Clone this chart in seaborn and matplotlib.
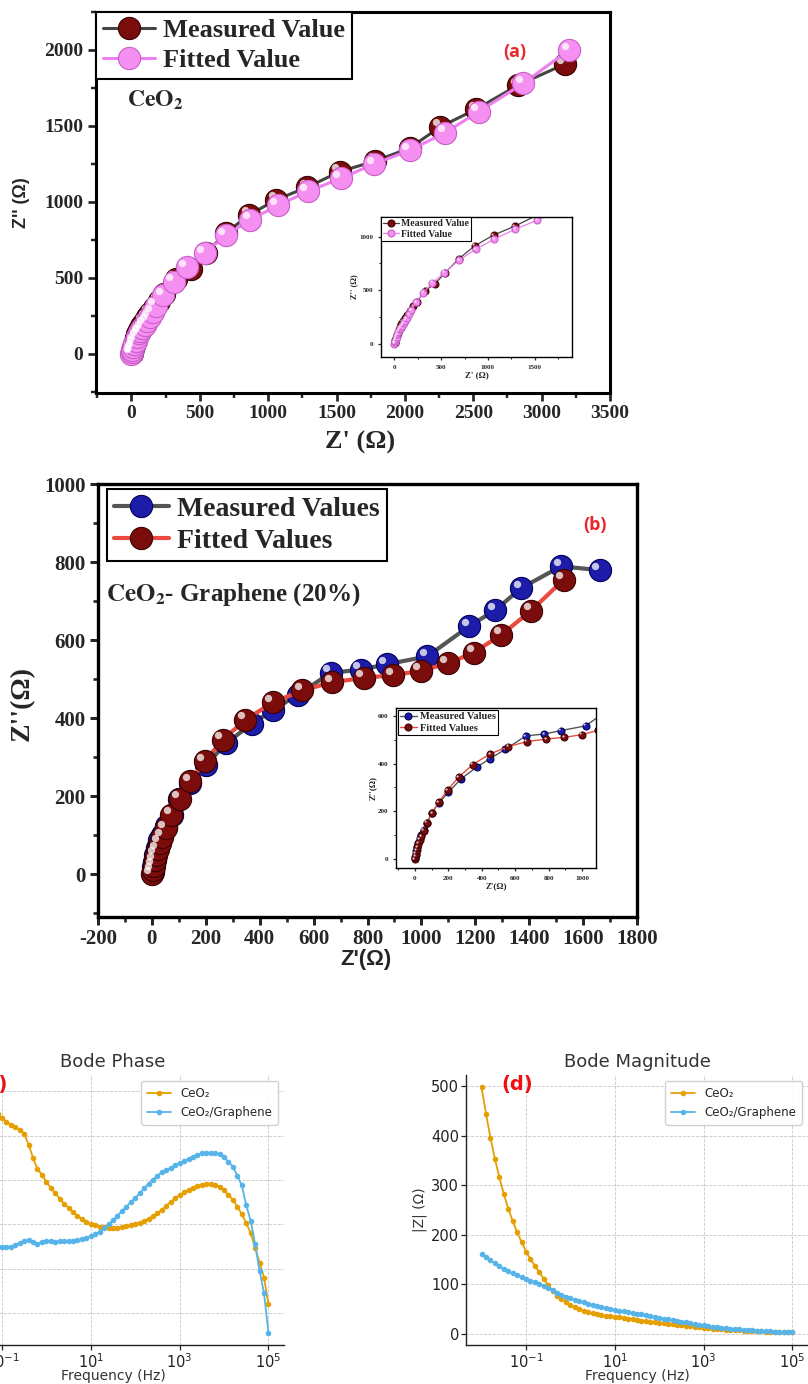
import numpy as np
import matplotlib
matplotlib.use("Agg")
import matplotlib.pyplot as plt
import seaborn as sns
from matplotlib.transforms import ScaledTranslation
from matplotlib.ticker import MultipleLocator, NullLocator

# ---------------- data ----------------
# (a) CeO2 Nyquist
a_meas_x = [2, 6, 11, 17, 24, 33, 44, 57, 72, 90, 112, 135, 162, 200, 240, 325, 435, 545, 690, 860, 1060, 1285, 1525, 1785, 2035, 2260, 2520, 2830, 3170]
a_meas_y = [5, 20, 38, 58, 80, 103, 128, 155, 183, 212, 240, 270, 305, 350, 392, 495, 560, 665, 795, 915, 1015, 1097, 1200, 1270, 1355, 1495, 1610, 1770, 1907]
a_fit_x = [0, 3, 7, 13, 22, 32, 43, 56, 65, 80, 97, 115, 133, 155, 179, 233, 309, 406, 535, 690, 870, 1070, 1290, 1530, 1775, 2035, 2295, 2540, 2865, 3200]
a_fit_y = [0, 12, 28, 46, 66, 88, 112, 135, 150, 170, 192, 215, 240, 275, 316, 387, 475, 570, 664, 780, 883, 977, 1069, 1155, 1250, 1340, 1456, 1594, 1780, 2000]

# (b) CeO2-Graphene Nyquist
b_meas_x = [3, 5, 8, 13, 20, 28, 38, 53, 75, 100, 143, 200, 275, 370, 448, 542, 664, 775, 872, 1022, 1178, 1273, 1370, 1518, 1662]
b_meas_y = [5, 18, 32, 48, 68, 88, 100, 122, 152, 193, 234, 279, 335, 385, 420, 460, 516, 524, 538, 558, 636, 676, 733, 789, 779]
b_fit_x = [0, 3, 6, 10, 15, 21, 29, 39, 52, 71, 103, 143, 196, 263, 347, 449, 558, 670, 786, 895, 998, 1098, 1195, 1297, 1407, 1528]
b_fit_y = [0, 10, 22, 36, 50, 64, 80, 96, 118, 152, 193, 238, 289, 344, 396, 440, 471, 492, 503, 510, 521, 540, 568, 614, 675, 755]

# (c)/(d) Bode data: frequency sweep 0.01 Hz - 100 kHz, 10 points per decade
freq = np.logspace(-2, 5, 71)
phase_ceo2 = [61.0, 60.5, 59.8, 59.0, 58.2, 57.5, 56.7, 56.0, 55.3, 54.8,
              54.0, 53.2, 52.4, 51.9, 51.4, 50.5, 48.0, 45.0, 42.5, 41.2,
              39.6, 38.2, 37.0, 35.8, 34.7, 33.7, 32.7, 31.9, 31.2, 30.6,
              30.1, 29.8, 29.5, 29.4, 29.3, 29.3, 29.3, 29.4, 29.6, 29.8,
              30.0, 30.4, 30.8, 31.3, 31.8, 32.5, 33.3, 34.2, 35.1, 35.9,
              36.6, 37.2, 37.8, 38.3, 38.7, 39.0, 39.2, 39.2, 39.0, 38.5,
              37.7, 36.7, 35.5, 34.0, 32.3, 30.3, 28.0, 24.7, 21.4, 18.0, 12.0]
phase_graph = [23.5, 23.8, 24.0, 24.2, 24.3, 24.5, 24.6, 24.7, 24.8, 24.9,
               24.9, 25.0, 25.0, 25.3, 25.8, 26.3, 26.5, 26.0, 25.6, 26.1,
               26.2, 26.2, 26.1, 26.2, 26.2, 26.3, 26.3, 26.4, 26.6, 26.9,
               27.3, 27.8, 28.4, 29.2, 30.0, 30.9, 32.0, 33.0, 34.0, 35.0,
               36.0, 37.0, 38.1, 39.2, 40.1, 41.0, 41.8, 42.3, 42.8, 43.3,
               43.8, 44.3, 44.8, 45.3, 45.7, 46.0, 46.2, 46.2, 46.1, 45.8,
               45.2, 44.1, 43.0, 41.0, 38.8, 34.3, 30.8, 25.5, 19.5, 14.5, 5.5]
mag_ceo2 = [498, 445, 396, 354, 316, 283, 253, 228, 205, 186,
            166, 151, 137, 124, 111, 98, 87, 77, 70, 64,
            58, 53, 49, 46, 43, 41, 39, 37.5, 36, 35,
            34, 33, 31.5, 30, 29, 28, 26.5, 25.5, 24, 23,
            22, 21, 20, 19, 18, 17, 16, 15, 14, 13,
            12, 11, 10.3, 9.5, 8.8, 8.2, 7.6, 7.0, 6.5, 6.0,
            5.5, 5.1, 4.7, 4.4, 4.1, 3.8, 3.6, 3.4, 3.2, 3.0, 2.9]
mag_graph = [161, 154, 148, 142, 136, 131, 126, 122, 118, 114,
             110, 107, 104, 101, 97, 93, 88, 83, 79, 75,
             72, 69, 66, 63, 60.5, 58, 56, 54, 52, 50,
             48, 46.5, 45, 43.5, 42, 40.5, 39, 37, 35.5, 34,
             32, 30.5, 29, 27.5, 26, 24.5, 23, 21, 19.5, 18,
             16.5, 15, 14, 13, 12, 11, 10, 9.3, 8.6, 7.9,
             7.2, 6.6, 6.0, 5.5, 5.0, 4.6, 4.2, 3.8, 3.5, 3.2, 3.0]

a_x_ticks = [0, 500, 1000, 1500, 2000, 2500, 3000, 3500]
a_y_ticks = [0, 500, 1000, 1500, 2000]
b_x_ticks = [-200, 0, 200, 400, 600, 800, 1000, 1200, 1400, 1600, 1800]
b_y_ticks = [0, 200, 400, 600, 800, 1000]
bode_x_ticks = [1e-1, 1e1, 1e3, 1e5]

# ---------------- style ----------------
sns.set_style("white")
plt.rcParams["axes.unicode_minus"] = False
SERIF = "Liberation Serif"
ORANGE = "#E69F00"
SKY = "#56B4E9"

W, H = 808, 1384
fig = plt.figure(figsize=(W / 100, H / 100), dpi=100)


def px_axes(left, top, right, bottom):
    return fig.add_axes([left / W, 1 - bottom / H, (right - left) / W, (bottom - top) / H])


def sphere_series(ax, x, y, lc, fc, ec, lw, ms, label):
    sns.lineplot(x=x, y=y, ax=ax, sort=False, estimator=None, color=lc, lw=lw,
                 marker="o", markersize=ms, markerfacecolor=fc, markeredgecolor=ec,
                 markeredgewidth=0.8, legend=False)
    h = ax.lines[-1]
    h.set_label(label)
    off = ScaledTranslation(-ms * 0.2 / 72, ms * 0.2 / 72, fig.dpi_scale_trans)
    ax.plot(x, y, "o", ms=ms * 0.33, mfc="white", mec="none", alpha=0.75,
            transform=ax.transData + off)
    return h


def origin_frame(ax, lw=2.2, maj=6, mnr=3.5, lsize=14):
    for s in ax.spines.values():
        s.set_visible(True)
        s.set_linewidth(lw)
        s.set_color("black")
    ax.tick_params(which="major", direction="out", length=maj, width=lw * 0.9,
                   top=False, right=False, bottom=True, left=True, labelsize=lsize, pad=3)
    ax.tick_params(which="minor", direction="out", length=mnr, width=lw * 0.8,
                   top=False, right=False, bottom=True, left=True)
    for lab in ax.get_xticklabels() + ax.get_yticklabels():
        lab.set_fontfamily(SERIF)
        lab.set_fontweight("bold")
    ax.grid(False)


# ---------------- (a) ----------------
axA = px_axes(96, 12, 610, 393)
ha1 = sphere_series(axA, a_meas_x, a_meas_y, "#444444", "#7a0c0c", "#3a0000", 2.2, 16, "Measured Value")
ha2 = sphere_series(axA, a_fit_x, a_fit_y, "#ee7fee", "#f590f2", "#c95ec8", 2.2, 16, "Fitted Value")
axA.set_xlim(-259, 3500)
axA.set_ylim(-257, 2250)
axA.set_xticks(a_x_ticks)
axA.set_yticks(a_y_ticks)
axA.xaxis.set_minor_locator(MultipleLocator(250))
axA.yaxis.set_minor_locator(MultipleLocator(250))
origin_frame(axA, lsize=14)
axA.set_xlabel("Z' (Ω)", fontfamily=SERIF, fontweight="bold", fontsize=19)
axA.xaxis.set_label_coords(0.514, -0.129)
axA.xaxis.label.set_va("center")
axA.set_ylabel("Z'' (Ω)", fontfamily="Liberation Sans", fontweight="bold", fontsize=13)
axA.yaxis.set_label_coords(-0.144, 0.499)
axA.yaxis.label.set_va("center")
legA = axA.legend(handles=[ha1, ha2], loc="upper left", borderaxespad=0, fancybox=False,
                  edgecolor="black", framealpha=1, handlelength=2.0, handletextpad=0.3,
                  borderpad=0.25, labelspacing=0.25,
                  prop={"family": SERIF, "weight": "bold", "size": 19})
legA.get_frame().set_linewidth(1.5)
axA.text(0.06, 0.77, r"$\mathbf{CeO_2}$", transform=axA.transAxes, fontsize=17,
         math_fontfamily="stix", va="center", ha="left")
axA.text(0.815, 0.895, "(a)", transform=axA.transAxes, color="#e8262b", fontsize=13,
         fontweight="bold", fontfamily="Open Sans", ha="center", va="center")

# inset (a)
axAi = px_axes(381, 217, 572, 357)
ha1i = sphere_series(axAi, a_meas_x, a_meas_y, "#444444", "#7a0c0c", "#3a0000", 0.9, 5, "Measured Value")
ha2i = sphere_series(axAi, a_fit_x, a_fit_y, "#ee7fee", "#f590f2", "#c95ec8", 0.9, 5, "Fitted Value")
axAi.set_xlim(-144, 1900)
axAi.set_ylim(-124, 1184)
axAi.set_xticks([0, 500, 1000, 1500])
axAi.set_yticks([0, 500, 1000])
axAi.xaxis.set_minor_locator(MultipleLocator(250))
axAi.yaxis.set_minor_locator(MultipleLocator(250))
origin_frame(axAi, lw=1.0, maj=2.5, mnr=1.5, lsize=5)
axAi.set_xlabel("Z' (Ω)", fontfamily=SERIF, fontweight="bold", fontsize=6.5, labelpad=1)
axAi.set_ylabel("Z'' (Ω)", fontfamily=SERIF, fontweight="bold", fontsize=6, labelpad=1)
legAi = axAi.legend(handles=[ha1i, ha2i], loc="upper left", borderaxespad=0, fancybox=False,
                    edgecolor="black", framealpha=1, handlelength=1.6, handletextpad=0.3,
                    borderpad=0.2, labelspacing=0.2,
                    prop={"family": SERIF, "weight": "bold", "size": 7})
legAi.get_frame().set_linewidth(0.8)

# ---------------- (b) ----------------
axB = px_axes(98, 484, 637, 917)
hb1 = sphere_series(axB, b_meas_x, b_meas_y, "#555555", "#1c1ca8", "#00005a", 3.0, 16, "Measured Values")
hb2 = sphere_series(axB, b_fit_x, b_fit_y, "#ea4a40", "#7a0c0c", "#3a0000", 3.0, 16, "Fitted Values")
axB.set_xlim(-200, 1800)
axB.set_ylim(-110, 1000)
axB.set_xticks(b_x_ticks)
axB.set_yticks(b_y_ticks)
axB.xaxis.set_minor_locator(MultipleLocator(100))
axB.yaxis.set_minor_locator(MultipleLocator(100))
origin_frame(axB, lw=2.4, lsize=15)
axB.set_xlabel("Z'(Ω)", fontfamily="Liberation Sans", fontweight="bold", fontsize=16)
axB.xaxis.set_label_coords(0.497, -0.099)
axB.xaxis.label.set_va("center")
axB.set_ylabel("Z''(Ω)", fontfamily=SERIF, fontweight="bold", fontsize=20)
axB.yaxis.set_label_coords(-0.141, 0.492)
axB.yaxis.label.set_va("center")
legB = axB.legend(handles=[hb1, hb2], loc="upper left", bbox_to_anchor=(0.016, 0.988),
                  borderaxespad=0, fancybox=False, edgecolor="black", framealpha=1,
                  handlelength=2.0, handletextpad=0.3, borderpad=0.25, labelspacing=0.25,
                  prop={"family": SERIF, "weight": "bold", "size": 20})
legB.get_frame().set_linewidth(1.5)
axB.text(0.015, 0.745, r"$\mathbf{CeO_2}$- Graphene (20%)", transform=axB.transAxes,
         fontsize=18, fontfamily=SERIF, fontweight="bold", math_fontfamily="stix",
         va="center", ha="left")
axB.text(0.922, 0.905, "(b)", transform=axB.transAxes, color="#e8262b", fontsize=13,
         fontweight="bold", fontfamily="Open Sans", ha="center", va="center")

# inset (b)
axBi = px_axes(396, 708, 596, 868)
hb1i = sphere_series(axBi, b_meas_x, b_meas_y, "#555555", "#1c1ca8", "#00005a", 1.0, 5, "Measured Values")
hb2i = sphere_series(axBi, b_fit_x, b_fit_y, "#ea4a40", "#7a0c0c", "#3a0000", 1.0, 5, "Fitted Values")
axBi.set_xlim(-113, 1084)
axBi.set_ylim(-38, 633)
axBi.set_xticks([0, 200, 400, 600, 800, 1000])
axBi.set_yticks([0, 200, 400, 600])
axBi.xaxis.set_minor_locator(MultipleLocator(100))
axBi.yaxis.set_minor_locator(MultipleLocator(100))
origin_frame(axBi, lw=1.0, maj=2.5, mnr=1.5, lsize=5)
axBi.set_xlabel("Z'(Ω)", fontfamily=SERIF, fontweight="bold", fontsize=6.5, labelpad=1)
axBi.set_ylabel("Z''(Ω)", fontfamily=SERIF, fontweight="bold", fontsize=6.5, labelpad=1)
legBi = axBi.legend(handles=[hb1i, hb2i], loc="upper left", borderaxespad=0.2, fancybox=False,
                    edgecolor="black", framealpha=1, handlelength=1.6, handletextpad=0.3,
                    borderpad=0.2, labelspacing=0.2,
                    prop={"family": SERIF, "weight": "bold", "size": 7.5})
legBi.get_frame().set_linewidth(0.8)

# ---------------- (c) and (d) Bode ----------------
def bode_axes(ax, title):
    ax.set_xscale("log")
    ax.set_xlim(10 ** -2.35, 10 ** 5.35)
    ax.set_xticks(bode_x_ticks)
    ax.xaxis.set_minor_locator(NullLocator())
    ax.grid(True, which="major", linestyle="--", linewidth=0.6, color="#c8c8c8")
    sns.despine(ax=ax)
    for s in ["left", "bottom"]:
        ax.spines[s].set_linewidth(1.0)
        ax.spines[s].set_color("#222222")
    ax.tick_params(direction="out", length=3.5, width=0.9, labelsize=10.5, colors="#222222",
                   bottom=True, left=True, pad=1.5)
    ax.set_title(title, fontsize=13, color="#333333", pad=6)
    ax.set_xlabel("Frequency (Hz)", fontsize=10, color="#333333", labelpad=-1)
    ax.legend(loc="upper right", fontsize=8.5, framealpha=0.9, borderpad=0.5,
              handlelength=2.0, labelspacing=0.5)


axC = px_axes(-58, 1075, 284, 1345)
sns.lineplot(x=freq, y=phase_ceo2, ax=axC, color=ORANGE, marker="o", markersize=4,
             markeredgewidth=0, lw=1.3, label="CeO₂", sort=False, estimator=None)
sns.lineplot(x=freq, y=phase_graph, ax=axC, color=SKY, marker="o", markersize=4,
             markeredgewidth=0, lw=1.3, label="CeO₂/Graphene", sort=False, estimator=None)
axC.set_ylim(2.8, 63.7)
axC.set_yticks([10, 20, 30, 40, 50, 60])
axC.set_ylabel("")
bode_axes(axC, "Bode Phase")
axC.tick_params(axis="y", labelleft=False)
axC.text(0.149, 0.965, "(c)", transform=axC.transAxes, color="#ee1111", fontsize=14,
         fontweight="bold", ha="center", va="center")

axD = px_axes(466, 1075, 808, 1345)
sns.lineplot(x=freq, y=mag_ceo2, ax=axD, color=ORANGE, marker="o", markersize=4,
             markeredgewidth=0, lw=1.3, label="CeO₂", sort=False, estimator=None)
sns.lineplot(x=freq, y=mag_graph, ax=axD, color=SKY, marker="o", markersize=4,
             markeredgewidth=0, lw=1.3, label="CeO₂/Graphene", sort=False, estimator=None)
axD.set_ylim(-23, 523)
axD.set_yticks([0, 100, 200, 300, 400, 500])
bode_axes(axD, "Bode Magnitude")
axD.set_ylabel("|Z| (Ω)", fontsize=10, color="#333333", labelpad=3)
axD.text(0.149, 0.965, "(d)", transform=axD.transAxes, color="#ee1111", fontsize=14,
         fontweight="bold", ha="center", va="center")

fig.savefig("out.png", dpi=100)
